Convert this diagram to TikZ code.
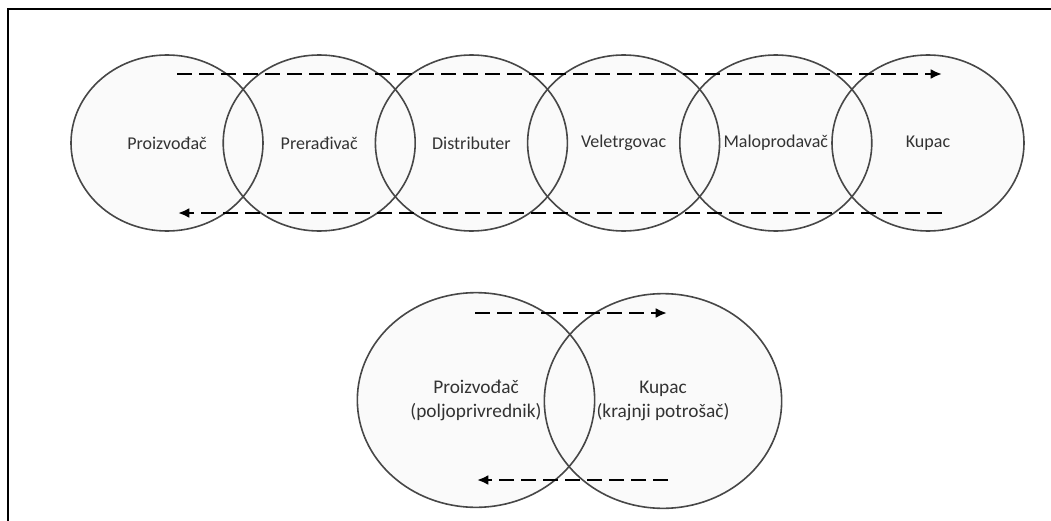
\documentclass[tikz,border=0pt]{standalone}
\usepackage{fontspec}
\setmainfont{Carlito}
\usetikzlibrary{shapes.geometric,arrows.meta,backgrounds}

\definecolor{rim}{HTML}{474747}
\definecolor{label}{HTML}{333333}
\definecolor{bubble}{HTML}{FAFAFA}

\tikzset{
  stage/.style={ellipse, draw=rim, line width=1.2pt, inner sep=0pt,
    minimum width=144pt, minimum height=132pt, text=label, align=center,
    font=\fontsize{13.5}{16}\selectfont},
  bigstage/.style={stage, minimum width=178pt, minimum height=161pt,
    font=\fontsize{14.5}{18}\selectfont},
  flow/.style={line width=1.8pt, dash pattern=on 11pt off 5.5pt,
    -{Latex[length=8.5pt,width=7.5pt]}},
}

\begin{document}
\begin{tikzpicture}[x=0.75pt,y=-0.75pt]
    \useasboundingbox (0,0) rectangle (1051,521);
    \def\step{152.2}

    % Frame
    \draw[line width=1.5pt] (8,521) -- (8,9) -- (1051,9);

    % Long chain
    \foreach \name/\txt [count=\i from 0] in {prod/Proizvođač, prer/Prerađivač,
        dist/Distributer, vele/Veletrgovac, malo/Maloprodavač, kup/Kupac} {
        \node[stage] (\name) at (167+\step*\i,143) {\txt};
    }

    % Short chain
    \node[bigstage] (farm) at (476,400) {Proizvođač\\(poljoprivrednik)};
    \node[bigstage] (cons) at (663,401) {Kupac\\(krajnji potrošač)};

    % Fills behind the outlines
    \begin{scope}[on background layer]
        \foreach \name in {prod,prer,dist,vele,malo,kup} {
            \fill[bubble] (\name) ellipse [x radius=96, y radius=88];
        }
        \foreach \name in {farm,cons} {
            \fill[bubble] (\name) ellipse [x radius=118.5, y radius=107.5];
        }
    \end{scope}

    % Flows
    \coordinate (topA) at (177,74);
    \coordinate (topB) at (942,74);
    \coordinate (botA) at (942,213);
    \coordinate (botB) at (178,213);
    \draw[flow] (topA) -- (topB);
    \draw[flow] (botA) -- (botB);

    \coordinate (farmTop) at (475,313);
    \coordinate (consTop) at (667,313);
    \coordinate (consBot) at (668,480);
    \coordinate (farmBot) at (477,480);
    \draw[flow] (farmTop) -- (consTop);
    \draw[flow] (consBot) -- (farmBot);

\end{tikzpicture}
\end{document}
